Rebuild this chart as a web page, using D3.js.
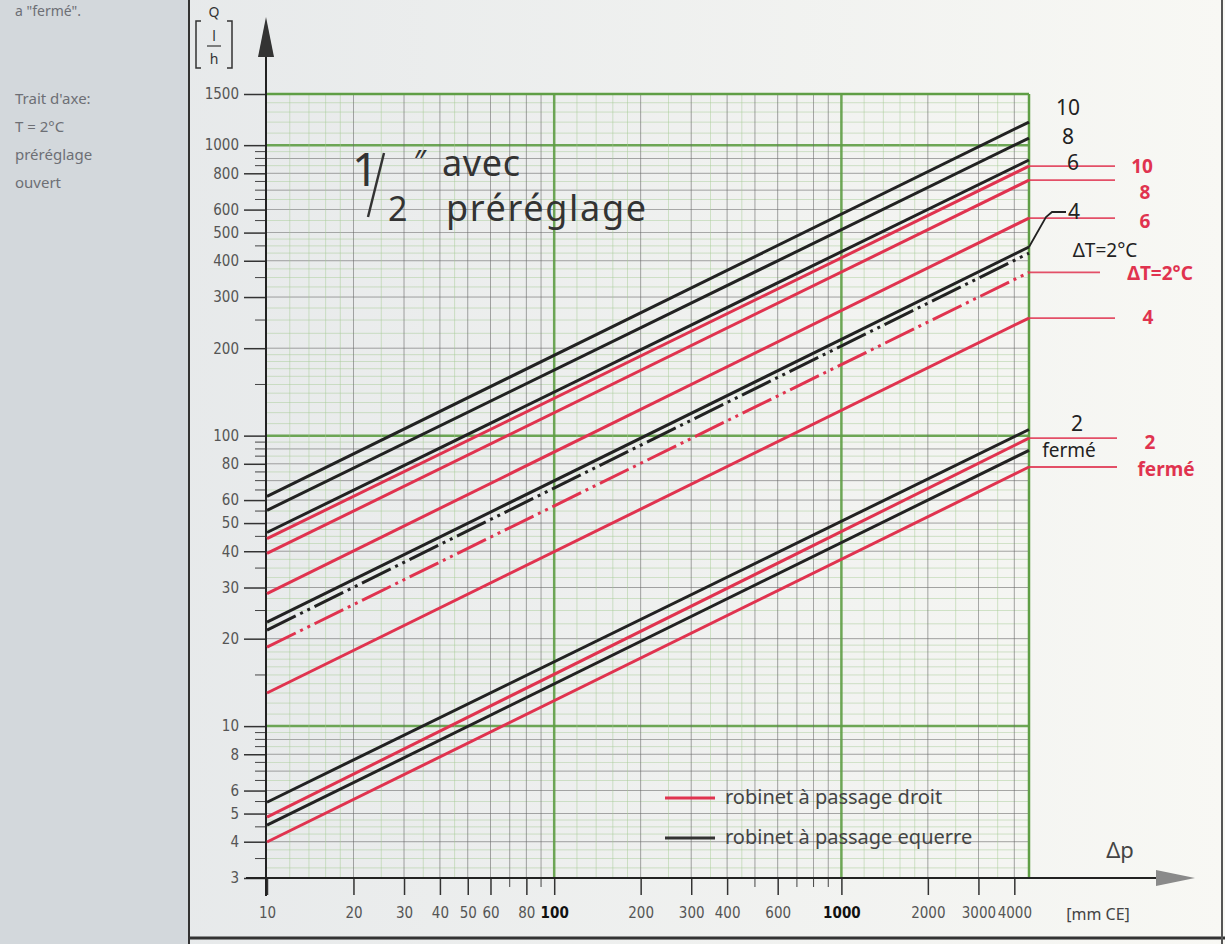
<!DOCTYPE html>
<html>
<head>
<meta charset="utf-8">
<script src="https://cdn.jsdelivr.net/npm/d3@7"></script>
<style>
body{margin:0;background:#eceeee;overflow:hidden;}
svg text{font-family:'Noto Sans',sans-serif;}
.tick text{font-family:'DejaVu Sans',sans-serif;font-stretch:condensed;}
</style>
</head>
<body>
<script>
var width = 1225, height = 944;

// line ends, read at dp = 10 and dp = 4500 mm CE
var dpEnds = [10, 4500];
var droitNames = ['10', '8', '6', 'ΔT=2°C', '4', '2', 'fermé'];
var droitQ = [[44.2, 847], [39.3, 758], [28.6, 561], [18.7, 365], [13.0, 254], [4.86, 98], [3.99, 78]];
var equerreNames = ['10', '8', '6', '4', 'ΔT=2°C', '2', 'fermé'];
var equerreQ = [[61.8, 1201], [55.3, 1058], [46.4, 889], [22.8, 446], [21.4, 425], [5.47, 105], [4.56, 89]];
var yTicks = [3, 4, 5, 6, 8, 10, 20, 30, 40, 50, 60, 80, 100, 200, 300, 400, 500, 600, 800, 1000, 1500];
var xTicks = [10, 20, 30, 40, 50, 60, 80, 100, 200, 300, 400, 600, 1000, 2000, 3000, 4000];
var legendNames = ['robinet à passage droit', 'robinet à passage equerre'];
var noteLines = ['Trait d\'axe:', 'T = 2°C', 'préréglage', 'ouvert'];

var red = '#e0334f', black = '#222';

var svg = d3.select('body').append('svg')
  .attr('width', width)
  .attr('height', height);

var defs = svg.append('defs');
var grad = defs.append('linearGradient').attr('id', 'bg');
grad.append('stop').attr('offset', '0%').attr('stop-color', '#e4e7e9');
grad.append('stop').attr('offset', '100%').attr('stop-color', '#f8f8f4');

svg.append('rect').attr('width', width).attr('height', height).attr('fill', 'url(#bg)');
svg.append('rect').attr('width', 188).attr('height', height).attr('fill', '#d3d8dc');
svg.append('line').attr('x1', 189).attr('x2', 189).attr('y1', 0).attr('y2', height)
  .attr('stroke', '#333').attr('stroke-width', 2);
svg.append('line').attr('x1', 189).attr('x2', width).attr('y1', 938).attr('y2', 938)
  .attr('stroke', '#333').attr('stroke-width', 3);
svg.append('line').attr('x1', 1222).attr('x2', 1222).attr('y1', 0).attr('y2', height)
  .attr('stroke', '#555').attr('stroke-width', 2);

// left note
svg.append('text').attr('x', 15).attr('y', 16).attr('fill', '#6d6f75')
  .style('font-size', '14px').text('a "fermé".');
svg.selectAll('.note').data(noteLines).enter().append('text')
  .attr('class', 'note')
  .attr('x', 15)
  .attr('y', function(d, i){ return 104 + i * 28; })
  .attr('fill', '#6d6f75')
  .style('font-size', '15px')
  .text(function(d){ return d; });

var x = d3.scaleLog().domain(dpEnds).range([267, 1029]);
var y = d3.scaleLog().domain([3, 1500]).range([878, 94]);

// grid paper
function subs(steps){
  var out = [];
  steps.forEach(function(s){
    for (var m = s[0]; m < s[1] - 1e-9; m += s[2]) out.push(Math.round(m * 100) / 100);
  });
  return out;
}
var ySubs = subs([[1, 2, 0.1], [2, 5, 0.25], [5, 10, 0.5]]);
var xSubs = subs([[1, 2, 0.2], [2, 5, 0.5], [5, 10, 1]]);
var yGrid = [], xGrid = [];
[1, 10, 100, 1000].forEach(function(dec){
  ySubs.forEach(function(m){
    var v = m * dec;
    if (v > 3 && v < 1500) yGrid.push({v: v, m: m});
  });
  xSubs.forEach(function(m){
    var v = m * dec;
    if (v > 10 && v < 4500) xGrid.push({v: v, m: m});
  });
});
function gridColor(d){ return d.m === 1 ? '#5f9e45' : (d.m % 1 === 0 ? '#6a6a6a' : '#a6cc94'); }
function gridWidth(d){ return d.m === 1 ? 2.5 : 0.8; }
function gridOpacity(d){ return d.m === 1 ? 0.9 : (d.m % 1 === 0 ? 0.75 : 0.6); }

var grid = svg.append('g');
grid.selectAll('.hg').data(yGrid).enter().append('line')
  .attr('x1', x(10)).attr('x2', x(4500))
  .attr('y1', function(d){ return y(d.v); })
  .attr('y2', function(d){ return y(d.v); })
  .attr('stroke', gridColor)
  .attr('stroke-width', gridWidth)
  .attr('opacity', gridOpacity);
grid.selectAll('.vg').data(xGrid).enter().append('line')
  .attr('y1', y(3)).attr('y2', y(1500))
  .attr('x1', function(d){ return x(d.v); })
  .attr('x2', function(d){ return x(d.v); })
  .attr('stroke', gridColor)
  .attr('stroke-width', gridWidth)
  .attr('opacity', gridOpacity);
grid.append('line').attr('x1', x(10)).attr('x2', x(4500)).attr('y1', y(1500)).attr('y2', y(1500))
  .attr('stroke', '#5f9e45').attr('stroke-width', 2.5);
grid.append('line').attr('x1', x(4500)).attr('x2', x(4500)).attr('y1', y(1500)).attr('y2', y(3))
  .attr('stroke', '#5f9e45').attr('stroke-width', 2.5);

// axes
var yAxis = d3.axisLeft(y).tickValues(yTicks).tickFormat(d3.format('d')).tickSize(22).tickPadding(5);
var gy = svg.append('g').attr('transform', 'translate(266,0)').call(yAxis);
gy.select('.domain').remove();
gy.selectAll('.tick line').attr('stroke', '#333').attr('stroke-width', 1.5);
gy.selectAll('.tick text').attr('fill', '#555').style('font-size', '15px');
var yMinor = yGrid.filter(function(d){ return yTicks.indexOf(d.v) < 0 && d.m % 0.5 === 0; });
gy.selectAll('.ym').data(yMinor).enter().append('line')
  .attr('x1', -11).attr('x2', 0)
  .attr('y1', function(d){ return y(d.v); })
  .attr('y2', function(d){ return y(d.v); })
  .attr('stroke', '#444').attr('stroke-width', 1);

var xAxis = d3.axisBottom(x).tickValues(xTicks).tickFormat(d3.format('d')).tickSize(17).tickPadding(12);
var gx = svg.append('g').attr('transform', 'translate(0,878)').call(xAxis);
gx.select('.domain').remove();
gx.selectAll('.tick line').attr('stroke', '#333').attr('stroke-width', 1.5);
gx.selectAll('.tick text')
  .attr('fill', function(d){ return (d === 100 || d === 1000) ? '#111' : '#555'; })
  .style('font-weight', function(d){ return (d === 100 || d === 1000) ? 'bold' : 'normal'; })
  .style('font-size', '15px');
var xMinor = xGrid.filter(function(d){ return xTicks.indexOf(d.v) < 0 && d.m % 1 === 0; });
gx.selectAll('.xm').data(xMinor).enter().append('line')
  .attr('y1', 0).attr('y2', 9)
  .attr('x1', function(d){ return x(d.v); })
  .attr('x2', function(d){ return x(d.v); })
  .attr('stroke', '#444').attr('stroke-width', 1);

svg.append('line').attr('x1', 246).attr('x2', 1160).attr('y1', 878).attr('y2', 878)
  .attr('stroke', '#222').attr('stroke-width', 2);
svg.append('path').attr('d', 'M1156,870L1195,878L1156,886Z').attr('fill', '#8a8a8a');
svg.append('line').attr('x1', 266).attr('x2', 266).attr('y1', 896).attr('y2', 56)
  .attr('stroke', '#222').attr('stroke-width', 2);
svg.append('path').attr('d', 'M258,57L266,17L274,57Z').attr('fill', '#333');

// axis titles
svg.append('text').attr('x', 214).attr('y', 17).attr('text-anchor', 'middle')
  .attr('fill', '#333').style('font-size', '14px').text('Q');
svg.append('path').attr('d', 'M201,21H196V68H201M227,21H232V68H227')
  .attr('fill', 'none').attr('stroke', '#333').attr('stroke-width', 1.5);
svg.append('text').attr('x', 214).attr('y', 41).attr('text-anchor', 'middle')
  .attr('fill', '#333').style('font-size', '14px').text('l');
svg.append('line').attr('x1', 207).attr('x2', 221).attr('y1', 46).attr('y2', 46)
  .attr('stroke', '#333').attr('stroke-width', 1.2);
svg.append('text').attr('x', 214).attr('y', 64).attr('text-anchor', 'middle')
  .attr('fill', '#333').style('font-size', '14px').text('h');
svg.append('text').attr('x', 1120).attr('y', 858).attr('text-anchor', 'middle')
  .attr('fill', '#444').style('font-size', '22px').text('Δp');
svg.append('text').attr('x', 1098).attr('y', 920).attr('text-anchor', 'middle')
  .attr('fill', '#444').style('font-size', '16px').text('[mm CE]');

// title
svg.append('text').attr('x', 352).attr('y', 186).attr('fill', '#333')
  .style('font-size', '46px').text('1');
svg.append('line').attr('x1', 368).attr('x2', 384).attr('y1', 217).attr('y2', 153)
  .attr('stroke', '#333').attr('stroke-width', 2.5);
svg.append('text').attr('x', 388).attr('y', 221).attr('fill', '#333')
  .style('font-size', '34px').text('2');
svg.append('text').attr('x', 413).attr('y', 172).attr('fill', '#333')
  .style('font-size', '30px').style('font-style', 'italic').text('″');
svg.append('text').attr('x', 442).attr('y', 176).attr('fill', '#333')
  .attr('textLength', 78).style('font-size', '36px').text('avec');
svg.append('text').attr('x', 446).attr('y', 221).attr('fill', '#333')
  .attr('textLength', 200).style('font-size', '36px').text('préréglage');

// curves
function lineData(q){ return [[dpEnds[0], q[0]], [dpEnds[1], q[1]]]; }
var line = d3.line().x(function(d){ return x(d[0]); }).y(function(d){ return y(d[1]); });
var dash = '32,5,3,5,3,5';

svg.selectAll('.droit').data(droitQ).enter().append('path')
  .attr('class', 'droit')
  .attr('d', function(d){ return line(lineData(d)); })
  .attr('fill', 'none')
  .attr('stroke', red)
  .attr('stroke-width', 3)
  .attr('stroke-dasharray', function(d, i){ return droitNames[i] === 'ΔT=2°C' ? dash : null; });
svg.selectAll('.equerre').data(equerreQ).enter().append('path')
  .attr('class', 'equerre')
  .attr('d', function(d){ return line(lineData(d)); })
  .attr('fill', 'none')
  .attr('stroke', black)
  .attr('stroke-width', 3)
  .attr('stroke-dasharray', function(d, i){ return equerreNames[i] === 'ΔT=2°C' ? dash : null; });

// right labels
var redLayout = {'10': [1142, 0, 1115], '8': [1145, 12, 1115], '6': [1145, 3, 1115], 'ΔT=2°C': [1160, 1, 1100],
  '4': [1148, -1, 1115], '2': [1150, 4, 1117], 'fermé': [1166, 2, 1117]};
var blackLayout = {'10': [1068, -14], '8': [1068, -1], '6': [1073, 3], '4': [1074, -35], 'ΔT=2°C': [1105, -3],
  '2': [1077, -6], 'fermé': [1069, 0]};

svg.selectAll('.rlead').data(droitQ).enter().append('line')
  .attr('x1', x(dpEnds[1]))
  .attr('x2', function(d, i){ return redLayout[droitNames[i]][2]; })
  .attr('y1', function(d){ return y(d[1]); })
  .attr('y2', function(d){ return y(d[1]); })
  .attr('stroke', red).attr('stroke-width', 1.8).attr('opacity', 0.85);

var e4 = equerreQ[equerreNames.indexOf('4')];
svg.append('path')
  .attr('d', 'M' + x(dpEnds[1]) + ',' + y(e4[1]) + 'L1046,' + (y(e4[1]) - 30) + 'L1052,' + (y(e4[1]) - 35) + 'H1066')
  .attr('fill', 'none').attr('stroke', black).attr('stroke-width', 1.8);

svg.selectAll('.blab').data(equerreQ).enter().append('text')
  .attr('x', function(d, i){ return blackLayout[equerreNames[i]][0]; })
  .attr('y', function(d, i){ return y(d[1]) + blackLayout[equerreNames[i]][1]; })
  .attr('dy', '0.35em')
  .attr('text-anchor', 'middle')
  .attr('fill', black)
  .style('font-size', function(d, i){ return equerreNames[i].length > 2 ? '19px' : '21px'; })
  .text(function(d, i){ return equerreNames[i]; });

svg.selectAll('.rlab').data(droitQ).enter().append('text')
  .attr('x', function(d, i){ return redLayout[droitNames[i]][0]; })
  .attr('y', function(d, i){ return y(d[1]) + redLayout[droitNames[i]][1]; })
  .attr('dy', '0.35em')
  .attr('text-anchor', 'middle')
  .attr('fill', red)
  .style('font-weight', 'bold')
  .style('font-size', '19px')
  .text(function(d, i){ return droitNames[i]; });

// legend
var leg = svg.selectAll('.leg').data(legendNames).enter().append('g')
  .attr('transform', function(d, i){ return 'translate(665,' + (798 + i * 40) + ')'; });
leg.append('line').attr('x1', 0).attr('x2', 50)
  .attr('stroke', function(d, i){ return i === 0 ? red : '#333'; })
  .attr('stroke-width', 3);
leg.append('text').attr('x', 60).attr('dy', '0.32em')
  .attr('fill', '#444')
  .style('font-size', '20px')
  .text(function(d){ return d; });
</script>
</body>
</html>
